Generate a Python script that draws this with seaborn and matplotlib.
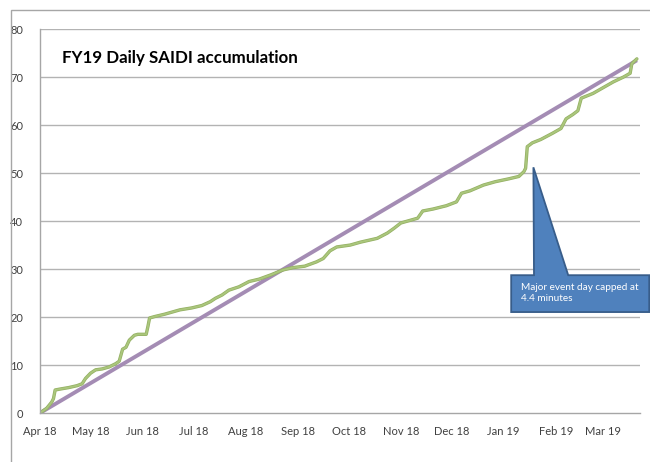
import matplotlib
matplotlib.use("Agg")
import matplotlib.pyplot as plt
import matplotlib.dates as mdates
from matplotlib.patches import Polygon, Rectangle
import seaborn as sb
import pandas as pd

# ---- data ----
actual_dates = [
    "2018-04-01", "2018-04-05", "2018-04-08", "2018-04-09", "2018-04-10", "2018-04-13",
    "2018-04-18", "2018-04-23", "2018-04-26", "2018-04-28", "2018-05-01", "2018-05-04",
    "2018-05-08", "2018-05-12", "2018-05-16", "2018-05-18", "2018-05-20", "2018-05-22",
    "2018-05-24", "2018-05-27", "2018-05-29", "2018-06-03", "2018-06-04", "2018-06-05",
    "2018-06-08", "2018-06-14", "2018-06-18", "2018-06-23", "2018-06-30", "2018-07-06",
    "2018-07-11", "2018-07-14", "2018-07-18", "2018-07-22", "2018-07-28", "2018-08-03",
    "2018-08-09", "2018-08-16", "2018-08-23", "2018-08-29", "2018-09-05", "2018-09-12",
    "2018-09-16", "2018-09-20", "2018-09-24", "2018-10-02", "2018-10-08", "2018-10-13",
    "2018-10-18", "2018-10-24", "2018-10-28", "2018-11-01", "2018-11-07", "2018-11-11",
    "2018-11-14", "2018-11-20", "2018-11-28", "2018-12-04", "2018-12-07", "2018-12-12",
    "2018-12-20", "2018-12-27", "2019-01-04", "2019-01-10", "2019-01-13", "2019-01-14",
    "2019-01-15", "2019-01-18", "2019-01-23", "2019-01-30", "2019-02-04", "2019-02-07",
    "2019-02-11", "2019-02-14", "2019-02-16", "2019-02-23", "2019-03-01", "2019-03-07",
    "2019-03-13", "2019-03-17", "2019-03-18", "2019-03-21",
]
actual_saidi = [
    0.0, 1.0, 2.3, 3.0, 4.8, 5.0,
    5.3, 5.7, 6.1, 7.2, 8.3, 9.0,
    9.2, 9.6, 10.3, 10.8, 13.3, 13.7,
    15.2, 16.2, 16.4, 16.4, 18.0, 19.8,
    20.1, 20.6, 21.0, 21.5, 21.9, 22.4,
    23.2, 23.9, 24.6, 25.6, 26.3, 27.4,
    27.9, 28.8, 29.8, 30.3, 30.6, 31.5,
    32.2, 33.8, 34.6, 35.0, 35.6, 36.0,
    36.4, 37.5, 38.5, 39.6, 40.2, 40.6,
    42.1, 42.5, 43.2, 44.0, 45.8, 46.3,
    47.5, 48.2, 48.8, 49.3, 50.3, 51.0,
    55.5, 56.3, 57.0, 58.3, 59.3, 61.3,
    62.2, 63.0, 65.6, 66.6, 67.8, 69.0,
    70.0, 70.8, 72.8, 73.8,
]
target_dates = ["2018-04-01", "2019-03-21"]
target_saidi = [0.0, 73.5]

month_ticks = pd.date_range("2018-04-01", "2019-03-01", freq="MS")
title_text = "FY19 Daily SAIDI accumulation"
callout_text = "Major event day capped at\n4.4 minutes"

actual = pd.DataFrame({"date": pd.to_datetime(actual_dates), "saidi": actual_saidi})
target = pd.DataFrame({"date": pd.to_datetime(target_dates), "saidi": target_saidi})

sb.set_style("white")
plt.rcParams["font.family"] = ["Lato", "DejaVu Sans"]

fig = plt.figure(figsize=(6.5, 4.62), dpi=100)
# outer chart border (only top/left visible in the crop)
fig.patches.append(Rectangle((0.017, -0.1), 1.2, 1.078, transform=fig.transFigure,
                             fill=False, edgecolor="#A6A6A6", linewidth=1.0))
ax = fig.add_axes([0.0615, 0.106, 0.9235, 0.831])

for y in range(10, 90, 10):
    ax.axhline(y, color="#B3B3B3", linewidth=1.0, zorder=0)

sb.lineplot(data=target, x="date", y="saidi", ax=ax, color="#A48CB4", linewidth=2.8,
            solid_capstyle="butt")
sb.lineplot(data=actual, x="date", y="saidi", ax=ax, color="#93AF62", linewidth=2.4)
sb.lineplot(data=actual, x="date", y="saidi", ax=ax, color="#AAC67C", linewidth=1.4)

ax.set_xlim(pd.Timestamp("2018-04-01"), pd.Timestamp("2019-03-23"))
ax.set_ylim(0, 80)
ax.set_yticks(range(0, 90, 10))
ax.set_xticks(month_ticks)
ax.xaxis.set_major_formatter(mdates.DateFormatter("%b %y"))
ax.set_xlabel("")
ax.set_ylabel("")
ax.tick_params(axis="both", labelsize=8, colors="#404040", length=4, width=0.8,
               direction="out")
ax.tick_params(axis="x", pad=5, color="#A6A6A6")
ax.tick_params(axis="y", pad=8, color="#A6A6A6")
for s in ["top", "right"]:
    ax.spines[s].set_visible(False)
for s in ["left", "bottom"]:
    ax.spines[s].set_color("#A6A6A6")
    ax.spines[s].set_linewidth(1.0)

ax.text(0.037, 0.924, title_text, transform=ax.transAxes, fontsize=12.2,
        fontweight="bold", color="black", va="center", ha="left")

# callout shape in axes fraction coordinates
callout = Polygon([(0.785, 0.263), (1.015, 0.263), (1.015, 0.359), (0.88, 0.359),
                   (0.822, 0.64), (0.823, 0.359), (0.785, 0.359)],
                  closed=True, transform=ax.transAxes, facecolor="#4F81BD",
                  edgecolor="#385D8A", linewidth=1.3, clip_on=False, zorder=5)
ax.add_patch(callout)
ax.text(0.802, 0.312, callout_text, transform=ax.transAxes, fontsize=7.2,
        color="white", va="center", ha="left", linespacing=1.35, zorder=6)

fig.savefig("out.png", dpi=100)
plt.close(fig)
